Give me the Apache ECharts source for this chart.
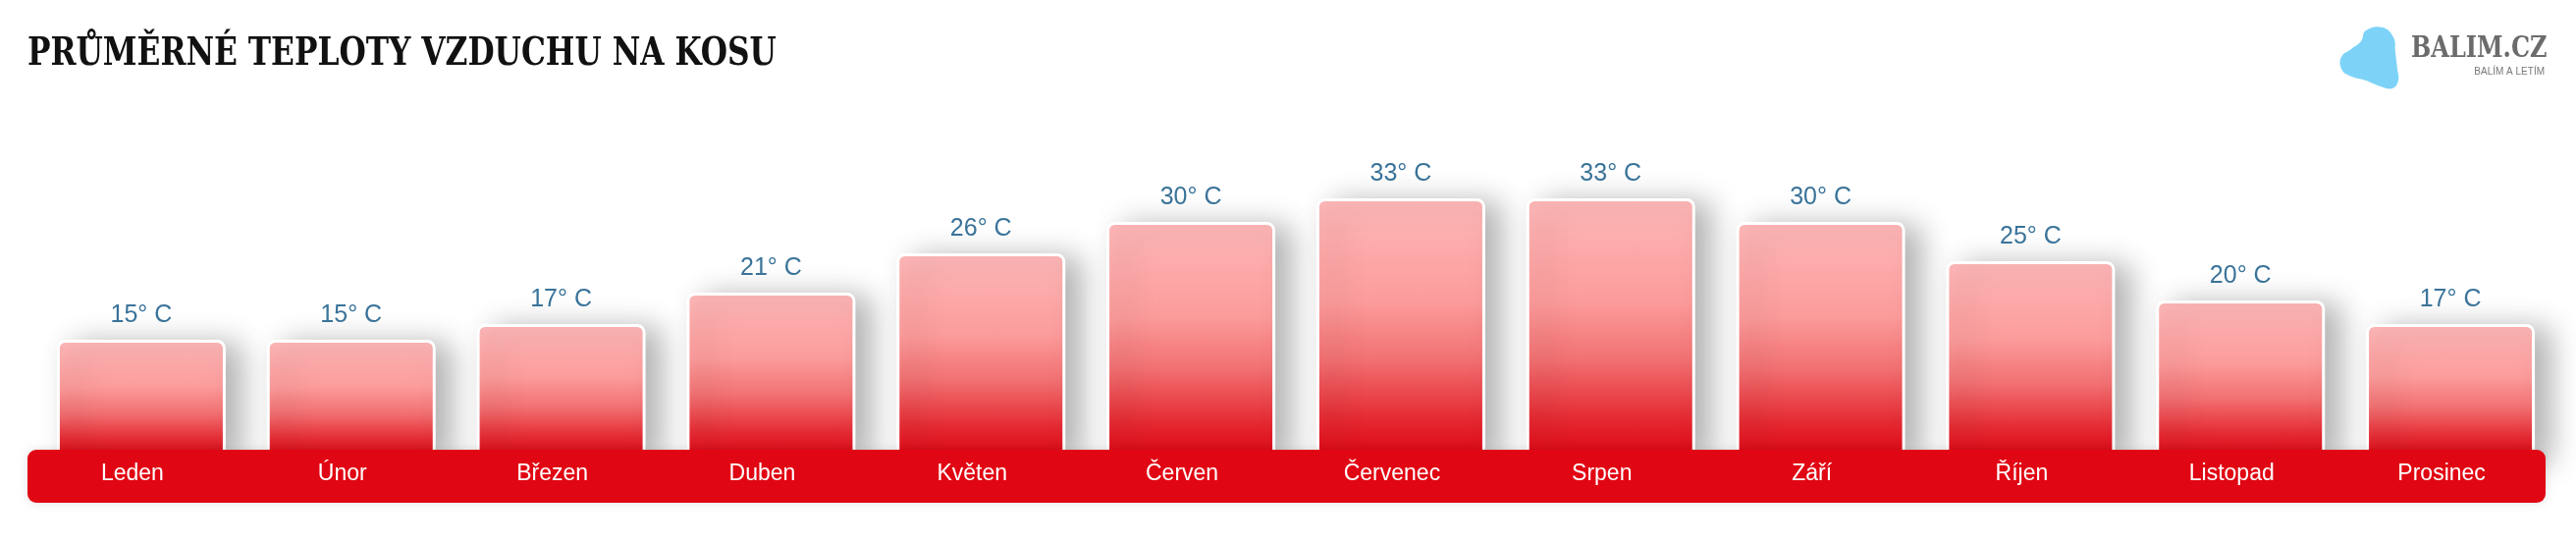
<!DOCTYPE html>
<html>
<head>
<meta charset="utf-8">
<script src="https://cdn.jsdelivr.net/npm/echarts@6/dist/echarts.min.js"></script>
<style>
html,body{margin:0;padding:0;background:#fff;}
#c{width:2624px;height:554px;}
</style>
</head>
<body>
<div id="c"></div>
<script>
// ---- data ----
var titleText = 'PRŮMĚRNÉ TEPLOTY VZDUCHU NA KOSU';
var months = ['Leden','Únor','Březen','Duben','Květen','Červen','Červenec','Srpen','Září','Říjen','Listopad','Prosinec'];
var temps = [15, 15, 17, 21, 26, 30, 33, 33, 30, 25, 20, 17];
var unitSuffix = '° C';
var logoText = 'BALIM.CZ';
var logoSub = 'BALÍM A LETÍM';

var chart = echarts.init(document.getElementById('c'), null, {renderer:'canvas'});
var option = {
  backgroundColor: '#ffffff',
  animation: false,
  grid: {left: 37, right: 21, top: 186, bottom: 88},
  xAxis: {
    type: 'category',
    data: months,
    z: 20,
    axisLine: {show: false},
    axisTick: {show: false},
    axisLabel: {
      color: '#ffffff',
      fontFamily: 'Liberation Sans, Arial, sans-serif',
      fontSize: 23,
      margin: 17,
      verticalAlign: 'middle',
      padding: [0, 18, 0, 0]
    }
  },
  yAxis: {
    type: 'value', min: 0, max: 35, show: false,
    splitLine: {show: false}
  },
  series: [{
    type: 'bar',
    data: temps,
    barWidth: 172,
    z: 2,
    itemStyle: {
      borderColor: '#ffffff',
      borderWidth: 3,
      borderRadius: [7, 7, 0, 0],
      shadowColor: 'rgba(0,0,0,0.3)',
      shadowBlur: 30,
      shadowOffsetX: 16,
      shadowOffsetY: 4,
      color: new echarts.graphic.LinearGradient(0, 0, 0, 1, [
        {offset: 0, color: '#feb8b8'},
        {offset: 0.4, color: '#fc9b9b'},
        {offset: 0.62, color: '#f27172'},
        {offset: 0.85, color: '#e52a33'},
        {offset: 1, color: '#e10613'}
      ])
    },
    label: {
      show: true,
      position: 'top',
      distance: 12,
      formatter: function (p) { return p.value + unitSuffix; },
      color: '#3a7399',
      fontFamily: 'Liberation Sans, Arial, sans-serif',
      fontSize: 25
    }
  }],
  graphic: [
    {
      type: 'rect', z: 10,
      shape: {x: 28, y: 458, width: 2565, height: 54, r: 9},
      style: {fill: '#e10613', shadowColor: 'rgba(0,0,0,0.12)', shadowBlur: 10}
    },
    {
      type: 'text', z: 30, x: 28, y: 36, scaleX: 0.87,
      style: {
        text: titleText,
        fill: '#111111',
        font: 'bold 40px "DejaVu Serif Condensed", "DejaVu Serif", serif'
      }
    },
    {
      type: 'polygon', z: 30,
      shape: {
        smooth: 0.45,
        points: [[2410,31],[2427,28],[2438,38],[2440,53],[2442,70],[2443,82],[2437,90],[2425,88],[2410,82],[2393,77],[2385,70],[2385,58],[2395,50],[2405,42]]
      },
      style: {fill: '#7dd3f7'}
    },
    {
      type: 'text', z: 30, x: 2456, y: 36, scaleX: 0.92,
      style: {
        text: logoText,
        fill: '#6b6b6b',
        font: 'bold 29px "DejaVu Serif Condensed", "DejaVu Serif", serif'
      }
    },
    {
      type: 'text', z: 30, right: 32, top: 68,
      style: {
        text: logoSub,
        fill: '#777777',
        font: '10px "Liberation Sans", Arial, sans-serif'
      }
    }
  ]
};
chart.setOption(option);
</script>
</body>
</html>
